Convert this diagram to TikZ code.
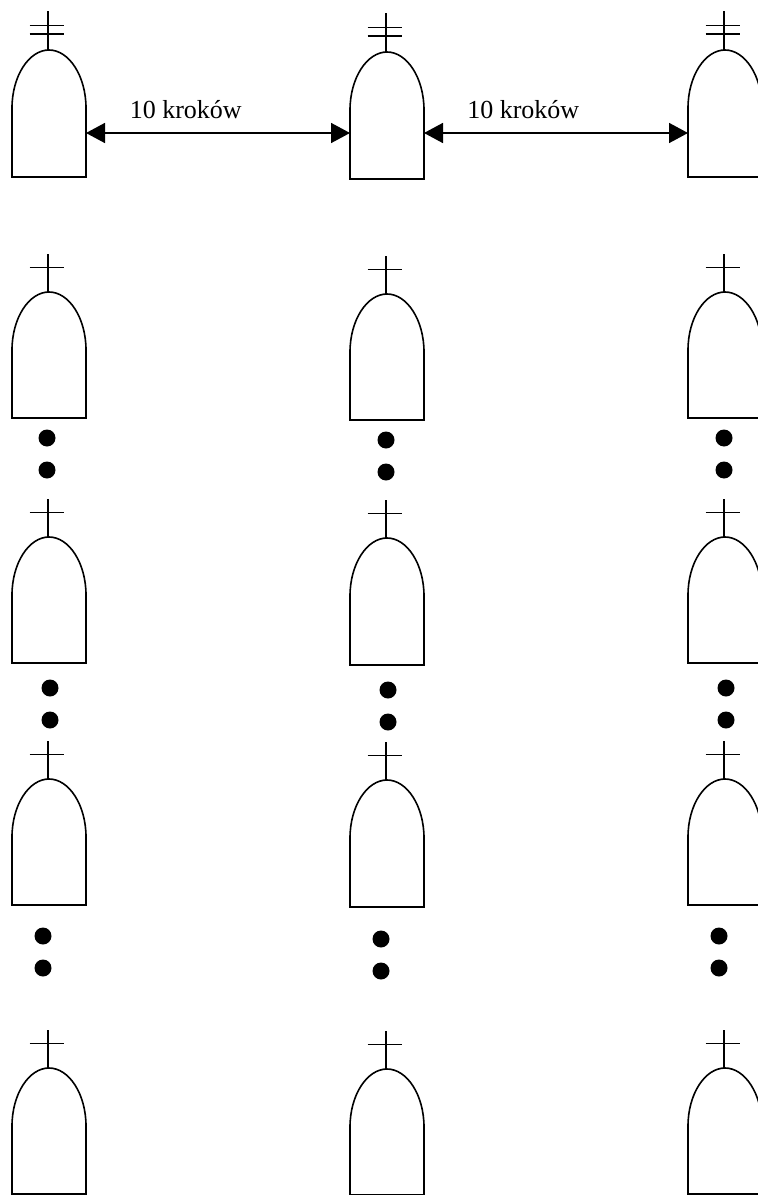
\documentclass[tikz,border=0pt]{standalone}
\usepackage{fontspec}
\setmainfont{Liberation Serif}
\usetikzlibrary{arrows.meta}
\tikzset{
  grave/.style={draw=black,line width=1.6*0.75pt,fill=none},
  dotmark/.style={circle,fill=black,draw=none,minimum size=17*0.75pt,inner sep=0pt},
  measure/.style={line width=1.6*0.75pt,{Triangle[length=19*0.75pt,width=20*0.75pt]}-{Triangle[length=19*0.75pt,width=20*0.75pt]},shorten >=0pt,shorten <=0pt},
  lbl/.style={inner sep=0pt,anchor=base west,font=\fontsize{19.5pt}{22pt}\selectfont}
}
% #1 left x, #2 top y, #3 bottom y
\newcommand{\gravebody}[3]{%
  \draw[grave] (#1,#2+58) .. controls (#1,#2+26) and (#1+17,#2) .. (#1+37,#2)
     .. controls (#1+57,#2) and (#1+74,#2+26) .. (#1+74,#2+58)
     -- (#1+74,#3) -- (#1,#3) -- cycle;
  \draw[grave] (#1+36,#2) -- (#1+36,#2-38.5);
}
\newcommand{\gravestone}[3]{%
  \gravebody{#1}{#2}{#3}
  \draw[grave] (#1+17.5,#2-24.5) -- (#1+51.5,#2-24.5);
}
\newcommand{\gravedouble}[3]{%
  \gravebody{#1}{#2}{#3}
  \draw[grave] (#1+17.5,#2-16) -- (#1+51.5,#2-16);
  \draw[grave] (#1+17.5,#2-24.5) -- (#1+51.5,#2-24.5);
}
\begin{document}
\begin{tikzpicture}[x=0.75pt,y=-0.75pt]
\useasboundingbox (0,0) rectangle (757,1195);
% top row
\gravedouble{12}{50}{177}
\gravedouble{350}{52}{179}
\gravedouble{688}{50}{177}
% arrow anchors
\coordinate (a1) at (86,133);
\coordinate (a2) at (350,133);
\coordinate (b1) at (424,133);
\coordinate (b2) at (688,133);
\draw[measure] (a1) -- (a2);
\draw[measure] (b1) -- (b2);
\node[lbl] (t1) at (129.5,119) {10 kroków};
\node[lbl] (t2) at (467,119) {10 kroków};
% other rows
\gravestone{12}{292}{418}
\gravestone{350}{294}{420}
\gravestone{688}{292}{418}
\gravestone{12}{537}{663}
\gravestone{350}{538}{665}
\gravestone{688}{537}{663}
\gravestone{12}{779}{905}
\gravestone{350}{780}{907}
\gravestone{688}{779}{905}
\gravestone{12}{1068}{1194}
\gravestone{350}{1069}{1195}
\gravestone{688}{1068}{1194}
% dots
\node[dotmark] (d1) at (47,438) {};
\node[dotmark] (d2) at (47,470) {};
\node[dotmark] (d3) at (386,440) {};
\node[dotmark] (d4) at (386,472) {};
\node[dotmark] (d5) at (724,438) {};
\node[dotmark] (d6) at (724,470) {};
\node[dotmark] (d7) at (50,688) {};
\node[dotmark] (d8) at (50,720) {};
\node[dotmark] (d9) at (388,690) {};
\node[dotmark] (d10) at (388,722) {};
\node[dotmark] (d11) at (726,688) {};
\node[dotmark] (d12) at (726,720) {};
\node[dotmark] (d13) at (43,936) {};
\node[dotmark] (d14) at (43,968) {};
\node[dotmark] (d15) at (381,939) {};
\node[dotmark] (d16) at (381,971) {};
\node[dotmark] (d17) at (719,936) {};
\node[dotmark] (d18) at (719,968) {};
\end{tikzpicture}
\end{document}
